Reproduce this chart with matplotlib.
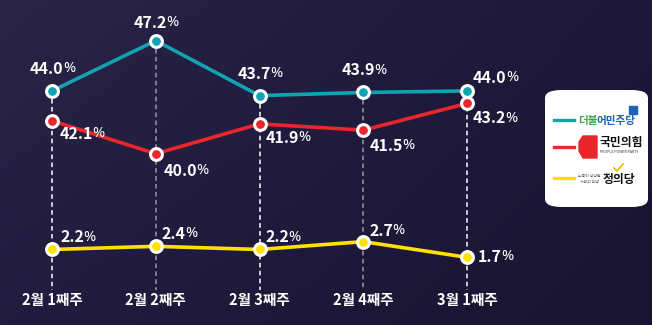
import numpy as np
import matplotlib
matplotlib.use("Agg")
import matplotlib.pyplot as plt
from matplotlib.patches import FancyBboxPatch, Polygon
from matplotlib.colors import to_rgb

plt.rcParams['font.family'] = ['Noto Sans CJK KR', 'DejaVu Sans']

# ---------------- data ----------------
weeks = ["2월 1째주", "2월 2째주", "2월 3째주", "2월 4째주", "3월 1째주"]
democratic = [44.0, 47.2, 43.7, 43.9, 44.0]   # 더불어민주당
ppp = [42.1, 40.0, 41.9, 41.5, 43.2]          # 국민의힘
justice = [2.2, 2.4, 2.2, 2.7, 1.7]           # 정의당
party_names = ["더불어민주당", "국민의힘", "정의당"]

# ---------------- style ----------------
TEAL = "#12a3b3"
RED = "#e8262b"
YELLOW = "#ffe100"
colors = [TEAL, RED, YELLOW]

# label offsets (pixels: dx to left edge of number, dy to text centre)
teal_off = [(-22, 22), (-22, 18), (-22, 22), (-22, 22), (6, 13)]
red_off = [(8, -13), (8, -17), (6, -14), (6, -16), (6, -15)]
yel_off = [(8, 12), (6, 12), (6, 12), (6, 11), (11, 0)]

W, H, DPI = 652, 325, 100
fig = plt.figure(figsize=(W / DPI, H / DPI), dpi=DPI)

# background gradient
bg = fig.add_axes([0, 0, 1, 1], zorder=0)
bg.set_axis_off()
c_tl = np.array(to_rgb("#2a2447"))
c_tr = np.array(to_rgb("#1d1839"))
c_bl = np.array(to_rgb("#221d40"))
c_br = np.array(to_rgb("#18132f"))
gx = np.linspace(0, 1, 200)[None, :, None]
gy = np.linspace(0, 1, 100)[:, None, None]
img = (c_tl * (1 - gx) * (1 - gy) + c_tr * gx * (1 - gy)
       + c_bl * (1 - gx) * gy + c_br * gx * gy)
bg.imshow(img, aspect="auto", extent=[0, 1, 0, 1])
bg.set_xlim(0, 1)
bg.set_ylim(0, 1)

ax = fig.add_axes([0, 0, 1, 1], zorder=1)
ax.patch.set_alpha(0)

# broken value scale: compress the empty band between the small party and the big two
GAP_LO, GAP_HI = 5.0, 36.7


def fwd(v):
    v = np.asarray(v, dtype=float)
    return np.minimum(v, GAP_LO) + np.maximum(v - GAP_HI, 0)


def inv(u):
    u = np.asarray(u, dtype=float)
    return np.where(u <= GAP_LO, u, u - GAP_LO + GAP_HI)


ax.set_yscale("function", functions=(fwd, inv))
x = np.arange(len(weeks))
step = 103.75
ax.set_xlim(-52 / step, len(weeks) - 1 + (W - 467) / step)
ax.set_ylim(-2.61, 49.79)
ax.set_axis_off()

# dashed drop lines
floor = -0.4
tops = np.maximum(democratic, ppp)
for i, t in enumerate(tops):
    col = "white" if i % 2 == 0 else "#9a97a8"
    ax.plot([x[i], x[i]], [t, floor], ls=(0, (3, 2.2)), lw=1.1, color=col, zorder=2)

for series, col in zip([democratic, ppp, justice], colors):
    ax.plot(x, series, color=col, lw=2.6, zorder=3, solid_capstyle="round")
    ax.plot(x, series, ls="none", marker="o", ms=8.5, mfc=col, mec="white",
            mew=2.2, zorder=4)


def label(xi, v, off):
    dx, dy = off
    t = ax.annotate(f"{v:.1f}", xy=(xi, v), xytext=(dx * 0.72, dy * 0.72),
                    textcoords="offset points", ha="left", va="center",
                    color="white", fontsize=11.5, fontweight="bold", zorder=6)
    ax.annotate("%", xy=(1, 0.5), xycoords=t, xytext=(-0.6, 0.3),
                textcoords="offset points", ha="left", va="center",
                color="white", fontsize=10.5, fontweight="normal",
                family=["Noto Sans", "DejaVu Sans"], zorder=6)


for i in range(len(weeks)):
    label(x[i], democratic[i], teal_off[i])
    label(x[i], ppp[i], red_off[i])
    label(x[i], justice[i], yel_off[i])

# x labels
trans = ax.get_xaxis_transform()
for i, w in enumerate(weeks):
    ax.text(x[i], 1 - 300 / H, w, transform=trans, ha="center", va="center",
            color="white", fontsize=10.5, fontweight="bold")

# ---------------- legend box ----------------
lx0, ly0, lw, lh = 545 / W, 1 - 207 / H, 103 / W, 117 / H
box = FancyBboxPatch((lx0, ly0), lw, lh,
                     boxstyle="round,pad=0,rounding_size=0.025",
                     transform=fig.transFigure, facecolor="white",
                     edgecolor="none", zorder=5)
fig.patches.append(box)


def fx(px):
    return px / W


def fy(py):
    return 1 - py / H


for ypx, col in zip([120, 147, 178], colors):
    fig.add_artist(plt.Line2D([fx(554), fx(574)], [fy(ypx), fy(ypx)],
                              color=col, lw=2.4, transform=fig.transFigure, zorder=6))

# 더불어민주당
fig.text(fx(578), fy(121), "더불", color="#3aa84a", fontsize=7.6, fontweight="bold",
         ha="left", va="center", zorder=7)
fig.text(fx(596), fy(121), "어민주당", color="#1c63b7", fontsize=7.6, fontweight="bold",
         ha="left", va="center", zorder=7)
fig.patches.append(plt.Rectangle((fx(629), fy(114)), 8 / W, 8 / H, color="#1c63b7",
                                 transform=fig.transFigure, zorder=7))
# 국민의힘
fig.patches.append(Polygon([[fx(583), fy(136)], [fx(597), fy(136)], [fx(597), fy(158)],
                            [fx(583), fy(158)], [fx(579), fy(151)], [fx(579), fy(142)]],
                           closed=True, color=RED, transform=fig.transFigure, zorder=7))
fig.text(fx(600), fy(142), "국민의힘", color="#111111", fontsize=8.5, fontweight="bold",
         ha="left", va="center", zorder=7)
fig.text(fx(600), fy(152), "PEOPLE POWER PARTY", color="#333333", fontsize=2.6,
         ha="left", va="center", zorder=7)
# 정의당
fig.text(fx(589), fy(176), "노동이 당당한", color="#555555", fontsize=2.8,
         ha="center", va="center", zorder=7)
fig.text(fx(589), fy(182), "사회의 희망", color="#555555", fontsize=2.8,
         ha="center", va="center", zorder=7)
fig.text(fx(603), fy(180), "정의당", color="#111111", fontsize=8.5, fontweight="bold",
         ha="left", va="center", zorder=7)
fig.add_artist(plt.Line2D([fx(614), fx(617), fx(623)], [fy(168), fy(171), fy(164)],
                          color="#f2c400", lw=1.3, transform=fig.transFigure, zorder=7))

fig.savefig("out.png", dpi=DPI)
